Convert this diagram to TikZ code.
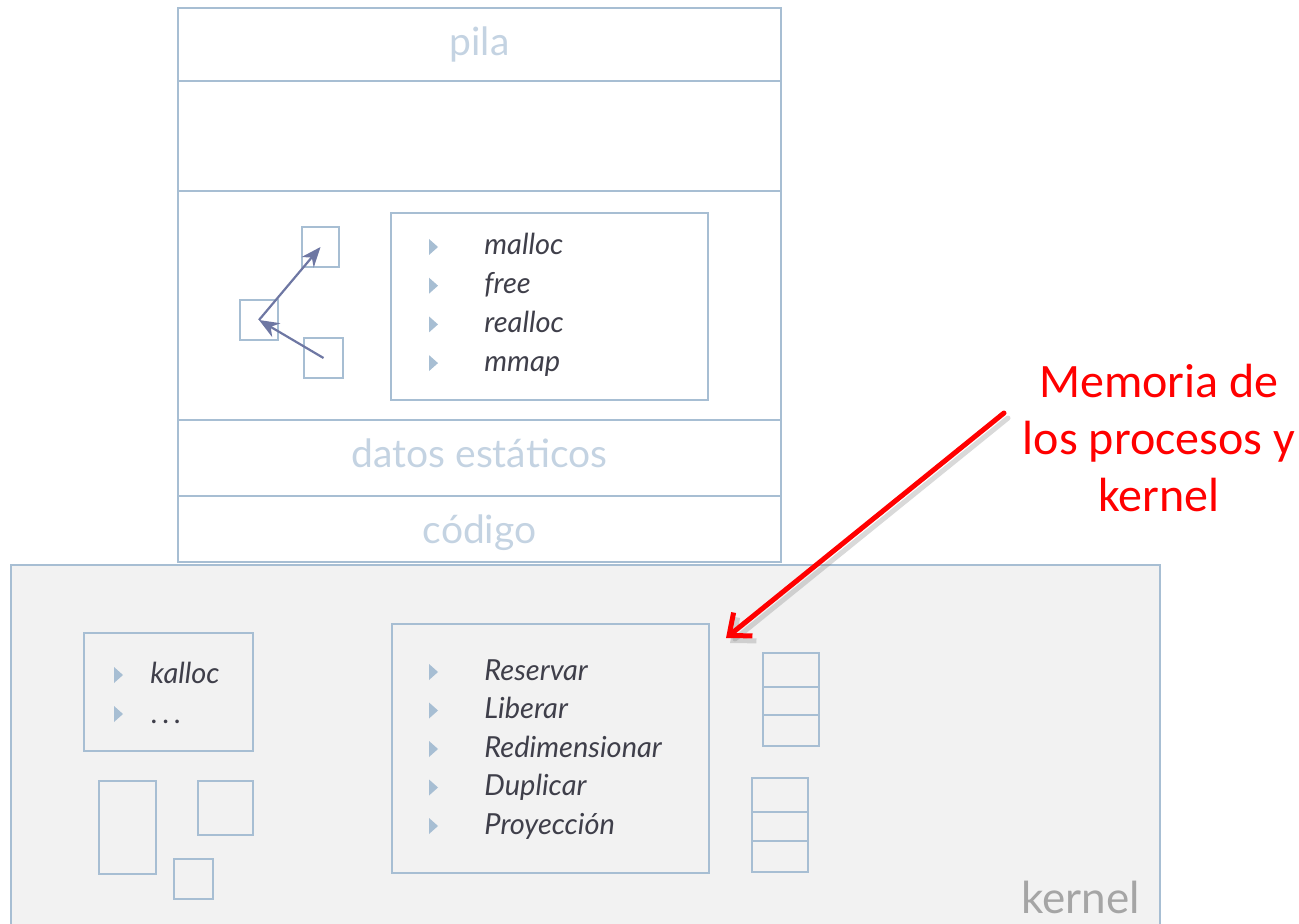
\documentclass[tikz,border=0pt]{standalone}
\usepackage{fontspec}
\setmainfont{Lato}
\newfontfamily\calib{Carlito}
\usetikzlibrary{arrows.meta}
\definecolor{lblue}{HTML}{A7BED3}
\definecolor{pale}{HTML}{C4D3E2}
\definecolor{ink}{HTML}{3F3F4A}
\definecolor{slate}{HTML}{6E77A3}
\definecolor{kfill}{HTML}{F2F2F2}
\definecolor{kgray}{HTML}{A5A5A5}

\begin{document}
\begin{tikzpicture}[x=0.5pt,y=-0.5pt,
  box/.style={draw=lblue,line width=1.2pt,inner sep=0pt},
  seg node/.style={box,minimum width=301.5pt},
  seg lbl/.style={anchor=base,inner sep=0pt,font=\fontsize{19.5}{23}\selectfont,text=pale},
  item node/.style={anchor=base west,inner sep=0pt,font=\fontsize{14.5}{17}\selectfont\itshape,text=ink},
  bul/.style={fill=lblue},
  link/.style={draw=slate,line width=1.1pt,-{Stealth[length=10pt,width=8pt]}},
  note/.style={align=center,text=red,font=\calib\fontsize{24}{28.5}\selectfont}]
  \useasboundingbox (0,0) rectangle (1299,924);
  % process memory
  \node[seg node,minimum height=36.5pt]  (pila)  at (479.5,44.5) {};
  \node[seg node,minimum height=55pt]    (hueco) at (479.5,136) {};
  \node[seg node,minimum height=114.5pt] (heap)  at (479.5,305.5) {};
  \node[seg node,minimum height=38pt]    (datos) at (479.5,458) {};
  \node[seg node,minimum height=33pt]    (cod)   at (479.5,529) {};
  \node[seg lbl] (pilalbl)  at (479.5,56) {pila};
  \node[seg lbl] (datoslbl) at (479.5,467) {datos estáticos};
  \node[seg lbl] (codlbl)   at (479.5,543) {código};
  \node[box,minimum width=158.5pt,minimum height=93.5pt] (ops) at (549.5,306.5) {};
  \node[box,minimum width=18.5pt,minimum height=20pt] (sq1) at (320.5,247) {};
  \node[box,minimum width=19pt,minimum height=20pt]   (sq2) at (259,320) {};
  \node[box,minimum width=19.5pt,minimum height=20pt] (sq3) at (323.5,358) {};
  \path[link] (sq3.center) -- (sq2.center);
  \path[link] (sq2.center) -- (sq1.center);
  \foreach \t [count=\i] in {malloc,free,realloc,mmap}{
    \pgfmathsetmacro\yb{255+38.7*(\i-1)}
    \fill[bul] (429,\yb-16) -- (438,\yb-8) -- (429,\yb) -- cycle;
    \node[item node] (u\i) at (484,\yb) {\t};
  }
  % kernel
  \node[box,fill=kfill,minimum width=574.5pt,minimum height=182.5pt] (kern) at (585.5,747.5) {};
  \node[anchor=base east,inner sep=0pt,text=kgray,font=\fontsize{22}{26}\selectfont] (klbl) at (1140,913) {kernel};
  \node[box,minimum width=84.5pt,minimum height=59pt] (kal) at (168.5,692) {};
  \fill[bul] (114,667) -- (123,675) -- (114,683) -- cycle;
  \fill[bul] (114,706) -- (123,714) -- (114,722) -- cycle;
  \node[item node] (k1) at (150,683) {kalloc};
  \node[item node] (k2) at (151,723) {.\,.\,.};
  \draw[box] (99,781) rectangle (156,874);
  \draw[box] (198,781) rectangle (253,835);
  \draw[box] (174,859) rectangle (213,899);
  \node[box,minimum width=158.5pt,minimum height=124.5pt] (kops) at (550.5,748.5) {};
  \foreach \t [count=\i] in {Reservar,Liberar,Redimensionar,Duplicar,Proyección}{
    \pgfmathsetmacro\yb{680+38.5*(\i-1)}
    \fill[bul] (429,\yb-16) -- (438,\yb-8) -- (429,\yb) -- cycle;
    \node[item node] (o\i) at (484,\yb) {\t};
  }
  \foreach \t/\b in {653/687,687/715,715/746} \draw[box] (763,\t) rectangle (819,\b);
  \foreach \t/\b in {778/812,812/841,841/872} \draw[box] (752,\t) rectangle (808,\b);
  % note
  \node[note,anchor=base] (memo) at (1159,511) {Memoria de\\los procesos y\\kernel};
  \coordinate (tail) at (1004,413);
  \coordinate (tip) at (726,638);
  \draw[gray,opacity=0.3,line width=2.5pt,line cap=round,-{Straight Barb[length=9pt,width=15pt]}] ([shift={(4,5)}]tail) -- ([shift={(4,5)}]tip);
  \draw[red,line width=2.5pt,line cap=round,-{Straight Barb[length=9pt,width=15pt]}] (tail) -- (tip);
\end{tikzpicture}
\end{document}
